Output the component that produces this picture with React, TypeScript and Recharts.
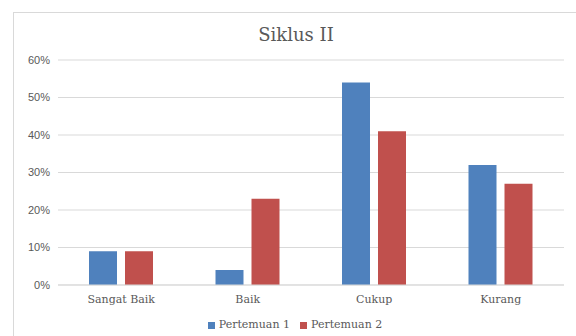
import { Bar, BarChart, CartesianGrid, Legend, XAxis, YAxis } from 'recharts';

const categories = ['Sangat Baik', 'Baik', 'Cukup', 'Kurang'];
const pertemuan1 = [9, 4, 54, 32];
const pertemuan2 = [9, 23, 41, 27];
const yTicks = [0, 10, 20, 30, 40, 50, 60];

const data = categories.map((name, i) => ({
  name,
  p1: pertemuan1[i],
  p2: pertemuan2[i]
}));

const serif = '"DejaVu Serif", serif';

export default function App() {
  return (
    <div style={{ position: 'absolute', left: 0, top: 0, width: 576, height: 336, overflow: 'hidden', background: '#fff' }}>
      <div
        style={{
          position: 'absolute',
          left: 13,
          top: 12,
          width: 620,
          height: 400,
          border: '1px solid #d9d9d9'
        }}
      />
      <div
        style={{
          position: 'absolute',
          left: 0,
          top: 24,
          width: 592,
          textAlign: 'center',
          fontFamily: serif,
          fontSize: 18,
          color: '#595959'
        }}
      >
        Siklus II
      </div>
      <div style={{ position: 'absolute', left: 0, top: 0 }}>
        <BarChart
          width={576}
          height={336}
          data={data}
          margin={{ top: 60, right: 12, left: 0, bottom: 0 }}
          barSize={28}
          barGap={8}
        >
          <CartesianGrid vertical={false} stroke="#d9d9d9" />
          <XAxis
            dataKey="name"
            height={31}
            tickLine={false}
            axisLine={{ stroke: '#d9d9d9' }}
            tick={{ fill: '#595959', fontSize: 11, fontFamily: serif }}
            tickMargin={4}
          />
          <YAxis
            width={58}
            domain={[0, 60]}
            ticks={yTicks}
            tickFormatter={(v: number) => `${v}%`}
            tickLine={false}
            axisLine={false}
            tick={{ fill: '#595959', fontSize: 11, fontFamily: '"Liberation Sans", sans-serif' }}
          />
          <Legend
            height={20}
            iconType="square"
            iconSize={7}
            wrapperStyle={{ left: 22, width: 556, bottom: -2, fontFamily: serif, fontSize: 11 }}
            formatter={(value: string) => <span style={{ color: '#595959' }}>{value}</span>}
          />
          <Bar dataKey="p1" name="Pertemuan 1" fill="#4f81bd" isAnimationActive={false} />
          <Bar dataKey="p2" name="Pertemuan 2" fill="#c0504d" isAnimationActive={false} />
        </BarChart>
      </div>
    </div>
  );
}
